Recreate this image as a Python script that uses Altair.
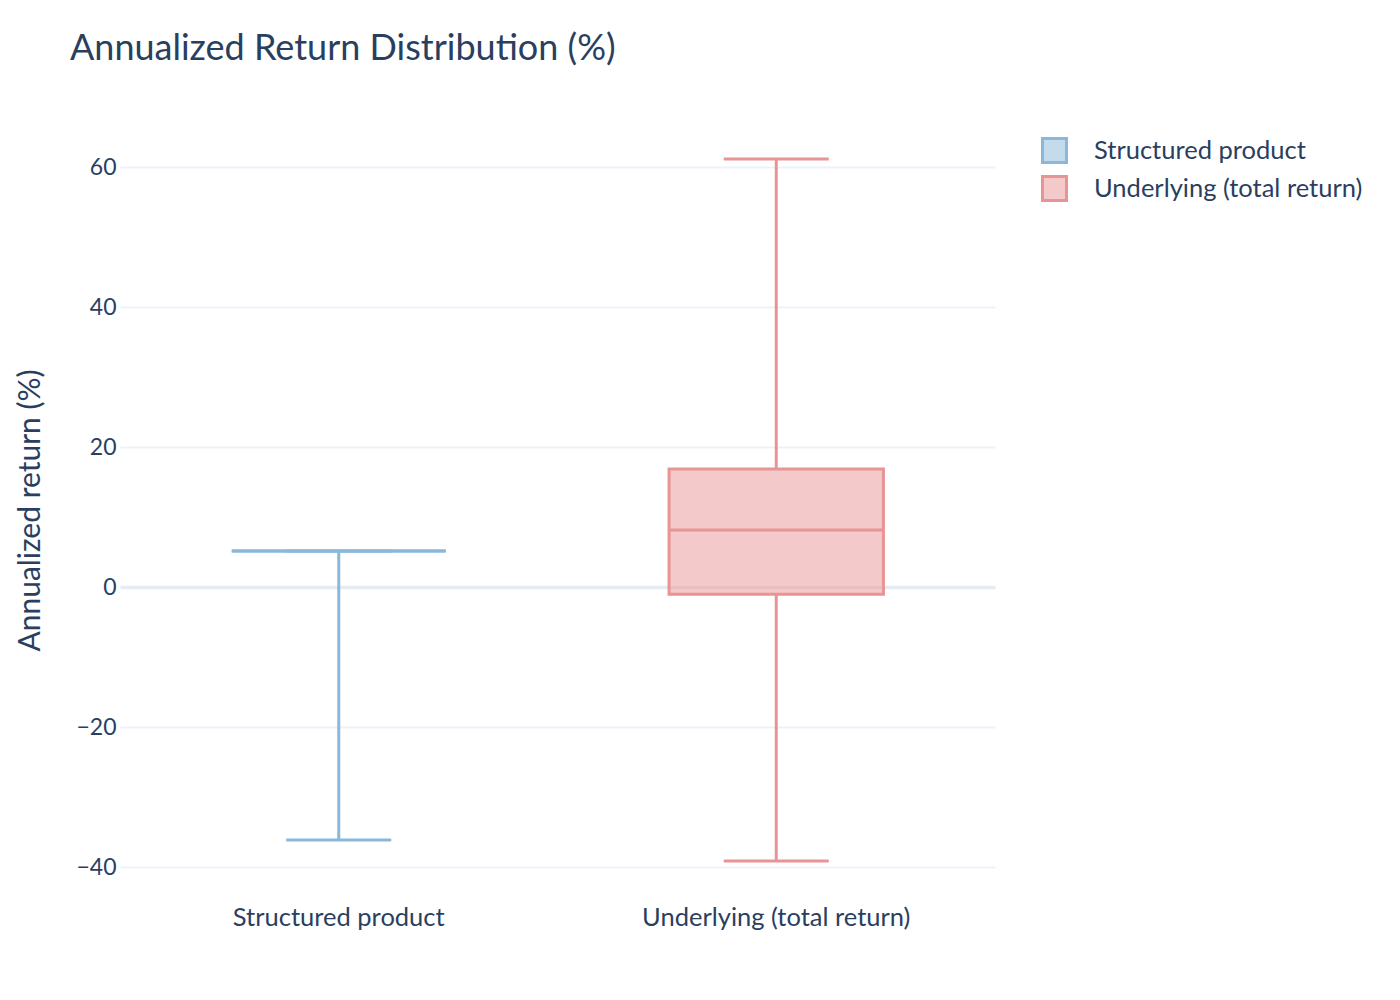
import altair as alt
import pandas as pd

# Box statistics (annualized return, %).
groups = ["Structured product", "Underlying (total return)"]
lows = [-36.1, -39.1]
q1s = [5.2, -1.0]
medians = [5.2, 8.2]
q3s = [5.2, 16.9]
highs = [5.2, 61.2]

colors = ["#8ab8da", "#e99494"]
fills = ["rgba(138,184,218,0.5)", "rgba(233,148,148,0.5)"]
font = "Lato"
text_color = "#2a3f5f"

boxes = pd.DataFrame({"group": groups, "low": lows, "q1": q1s,
                      "median": medians, "q3": q3s, "high": highs})

# Whisker segments: low -> q1 and q3 -> high.
whiskers = pd.DataFrame({
    "group": groups + groups,
    "start": lows + q3s,
    "end": q1s + highs,
})

x = alt.X("group:N", sort=groups,
          scale=alt.Scale(paddingInner=0, paddingOuter=0),
          axis=alt.Axis(title=None, labelAngle=0, domain=False, ticks=False,
                        labelFontSize=25.5, labelColor=text_color, labelFont=font,
                        labelPadding=9, labelLimit=0))
y_scale = alt.Scale(domain=[-44.1, 66.2], nice=False, zero=False)
color_scale = alt.Scale(domain=groups, range=colors)
fill_scale = alt.Scale(domain=groups, range=fills)

# zero line a bit heavier, as in the reference
grid_width = {"condition": {"test": "datum.value === 0", "value": 3.5}, "value": 2}
grid_color = {"condition": {"test": "datum.value === 0", "value": "#e6ecf5"}, "value": "#eef2f8"}

whisker_layer = alt.Chart(whiskers).mark_rule(strokeWidth=3).encode(
    x=x,
    y=alt.Y("start:Q", scale=y_scale,
            axis=alt.Axis(title="Annualized return (%)", values=[-40, -20, 0, 20, 40, 60],
                          domain=False, ticks=False, gridColor=grid_color, gridWidth=grid_width,
                          labelFontSize=23, labelColor=text_color, labelFont=font,
                          labelPadding=4, titleFontSize=30, titleFont=font,
                          titleColor=text_color, titleFontWeight="normal",
                          titleX=-90, titleY=386, titleAngle=-90,
                          titleAlign="center", titleBaseline="middle")),
    y2="end:Q",
    stroke=alt.Stroke("group:N", scale=color_scale, legend=None),
)

cap_low = alt.Chart(boxes).mark_tick(size=105, thickness=3, opacity=1).encode(
    x=x, y=alt.Y("low:Q", scale=y_scale),
    color=alt.Color("group:N", scale=color_scale, legend=None),
)
cap_high = alt.Chart(boxes).mark_tick(size=105, thickness=3, opacity=1).encode(
    x=x, y=alt.Y("high:Q", scale=y_scale),
    color=alt.Color("group:N", scale=color_scale, legend=None),
)

box_layer = alt.Chart(boxes).mark_bar(
    width=alt.RelativeBandSize(0.49), strokeWidth=3
).encode(
    x=x,
    y=alt.Y("q1:Q", scale=y_scale),
    y2="q3:Q",
    fill=alt.Fill("group:N", scale=fill_scale, sort=groups,
                  legend=alt.Legend(title=None, orient="none", legendX=921, legendY=13,
                                    symbolType="square", symbolSize=576,
                                    symbolStrokeWidth=3,
                                    labelFontSize=25.5, labelFont=font, labelLimit=0,
                                    labelColor=text_color, labelOffset=26,
                                    rowPadding=1)),
    stroke=alt.Stroke("group:N", scale=color_scale, sort=groups),
)

median_layer = alt.Chart(boxes).mark_tick(size=213, thickness=3, opacity=1).encode(
    x=x, y=alt.Y("median:Q", scale=y_scale),
    color=alt.Color("group:N", scale=color_scale, legend=None),
)

chart = alt.layer(whisker_layer, cap_low, cap_high, box_layer, median_layer).properties(
    width=875,
    height=772,
    autosize=alt.AutoSizeParams(type="none"),
    padding={"left": 112, "top": 116, "right": 390, "bottom": 90},
    title=alt.TitleParams("Annualized Return Distribution (%)", anchor="start",
                          frame="group", dx=-50, offset=39, baseline="middle",
                          fontSize=36, font=font, color=text_color, fontWeight="normal"),
).resolve_scale(color="independent", stroke="independent", fill="independent")
chart = chart.configure_view(stroke=None)

chart.save("out.html", embed_options={"renderer": "svg", "actions": False})
